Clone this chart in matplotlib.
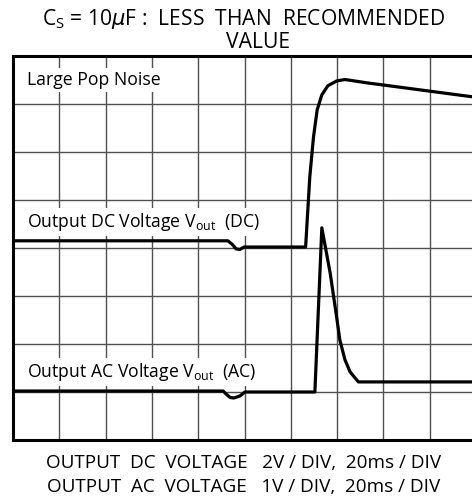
""" pop noise scope capture, Cs = 10uF """
from matplotlib import pyplot as plt

plt.rcParams["font.family"] = ["Open Sans", "DejaVu Sans"]
plt.rcParams["mathtext.default"] = "regular"

# scope trace, x in time divisions, y in vertical divisions (0 = bottom)
dc_time = [0, 4.64, 4.73, 4.82, 4.90, 4.99, 6.32, 6.41, 6.49, 6.57,
           6.67, 6.80, 6.99, 7.17, 7.65, 10]
dc_level = [4.15, 4.15, 4.08, 3.98, 3.97, 4.02, 4.02, 5.48, 6.31, 6.88,
            7.19, 7.38, 7.48, 7.51, 7.44, 7.14]

ac_time = [0, 4.54, 4.60, 4.69, 4.77, 4.90, 5.01, 6.52, 6.67, 6.85,
           6.99, 7.06, 7.17, 7.28, 7.46, 10]
ac_level = [1.02, 1.02, 0.96, 0.885, 0.875, 0.917, 1.0, 1.0, 4.42, 3.48,
            2.56, 2.08, 1.67, 1.42, 1.21, 1.21]

n_xdiv = 10
n_ydiv = 8

title_1 = r"C$_\mathregular{S}$ = 10$\mathit{\mu}$F :  LESS  THAN  RECOMMENDED"
title_2 = "VALUE"
trace_labels = ["Large Pop Noise",
                r"Output DC Voltage V$_\mathregular{out}$  (DC)",
                r"Output AC Voltage V$_\mathregular{out}$  (AC)"]
label_y = [7.5, 4.54, 1.42]
footer = ["OUTPUT  DC  VOLTAGE   2V / DIV,  20ms / DIV",
          "OUTPUT  AC  VOLTAGE   1V / DIV,  20ms / DIV"]

fig = plt.figure(figsize=(4.72, 5.01), dpi=100)
ax = fig.add_axes([13 / 472, 61 / 501, 463 / 472, 384 / 501])

ax.set_xlim(0, n_xdiv)
ax.set_ylim(0, n_ydiv)
ax.set_xticks(range(n_xdiv + 1))
ax.set_yticks(range(n_ydiv + 1))
ax.tick_params(length=0, labelbottom=False, labelleft=False)
ax.grid(True, color="#505050", linewidth=1.0)
ax.set_axisbelow(True)
for s in ax.spines.values():
    s.set_linewidth(2.2)

for txt, y in zip(trace_labels, label_y):
    ax.text(0.30, y, txt, fontsize=12.7, va="center", ha="left", zorder=2,
            bbox=dict(facecolor="white", edgecolor="none", pad=2))

ax.plot(dc_time, dc_level, color="black", lw=2.3, zorder=3,
        solid_joinstyle="round", solid_capstyle="butt")
ax.plot(ac_time, ac_level, color="black", lw=2.3, zorder=3,
        solid_joinstyle="round", solid_capstyle="butt")

fig.text(244 / 472, 1 - 19 / 501, title_1, fontsize=15.2, ha="center", va="center")
fig.text(258 / 472, 1 - 43 / 501, title_2, fontsize=15.2, ha="center", va="center")
fig.text(244 / 472, 1 - 463 / 501, footer[0], fontsize=13.6, ha="center", va="center")
fig.text(244 / 472, 1 - 487 / 501, footer[1], fontsize=13.6, ha="center", va="center")

plt.savefig("out.png", dpi=100)
